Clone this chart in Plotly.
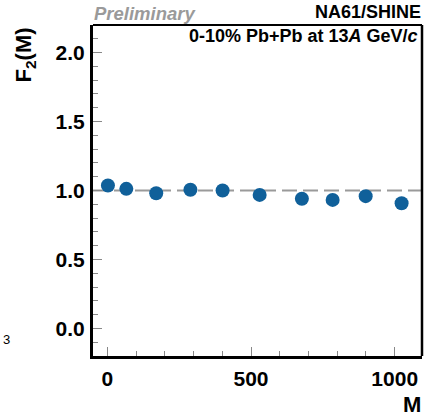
import plotly.graph_objects as go

M_values = [2, 66, 170, 289, 401, 530, 677, 784, 899, 1024]
F2_values = [1.036, 1.012, 0.980, 1.005, 1.000, 0.968, 0.940, 0.932, 0.959, 0.908]
ref_x = [-50, 1095]
ref_y = [1.0, 1.0]

FONT = "Liberation Sans"
fig = go.Figure()
fig.add_trace(go.Scatter(x=ref_x, y=ref_y, mode="lines",
                         line=dict(color="#9a9a9a", width=2, dash="15px,6px"),
                         showlegend=False, hoverinfo="skip"))
fig.add_trace(go.Scatter(x=M_values, y=F2_values, mode="markers",
                         marker=dict(color="#10609a", size=14),
                         showlegend=False))

fig.update_layout(
    width=424, height=418,
    margin=dict(l=93, r=2, t=25, b=62),
    paper_bgcolor="white", plot_bgcolor="white",
    font=dict(family=FONT, color="black"),
    xaxis=dict(range=[-50, 1095], tickvals=[0, 500, 1000], ticktext=["0", "500", "1000"],
               ticks="inside", ticklen=9, tickwidth=1, tickcolor="#888",
               minor=dict(dtick=100, tick0=0, ticks="inside", ticklen=5, tickcolor="#888"),
               showline=True, linewidth=3, linecolor="black", mirror=False,
               showgrid=False, zeroline=False,
               tickfont=dict(size=21, family=FONT, weight="bold"), ticklabelstandoff=2),
    yaxis=dict(range=[-0.2, 2.2], tickvals=[0, 0.5, 1.0, 1.5, 2.0],
               ticktext=["0.0", "0.5", "1.0", "1.5", "2.0"],
               ticks="inside", ticklen=9, tickwidth=1, tickcolor="#888",
               minor=dict(dtick=0.1, tick0=0, ticks="inside", ticklen=5, tickcolor="#888"),
               showline=True, linewidth=3, linecolor="black", mirror=False,
               showgrid=False, zeroline=False,
               tickfont=dict(size=21, family=FONT, weight="bold"), ticklabelstandoff=1),
)

fig.add_shape(type="line", xref="paper", yref="paper", x0=0, x1=1, y0=1, y1=1,
              line=dict(color="black", width=2))
fig.add_shape(type="line", xref="paper", yref="paper", x0=1, x1=1, y0=0, y1=1,
              line=dict(color="black", width=2.5))

fig.add_annotation(text="F<sub>2</sub>(M)", xref="paper", yref="paper", x=-0.207, y=1.0,
                   xanchor="center", yanchor="top", textangle=-90, showarrow=False,
                   font=dict(size=22, family=FONT, weight="bold"))
fig.add_annotation(text="M", xref="paper", yref="paper", x=1.004, y=-0.148,
                   xanchor="right", yanchor="middle", showarrow=False,
                   font=dict(size=22, family=FONT, weight="bold"))
fig.add_annotation(text="<i>Preliminary</i>", xref="paper", yref="paper", x=-0.003, y=1.035,
                   xanchor="left", yanchor="middle", showarrow=False,
                   font=dict(size=18.5, family=FONT, weight="bold", color="#9a9a9a"))
fig.add_annotation(text="NA61/SHINE", xref="paper", yref="paper", x=1.004, y=1.04,
                   xanchor="right", yanchor="middle", showarrow=False,
                   font=dict(size=18, family=FONT, weight="bold"))
fig.add_annotation(text="0-10% Pb+Pb at 13<i>A</i> GeV/<i>c</i>", xref="paper", yref="paper",
                   x=0.995, y=0.967, xanchor="right", yanchor="middle", showarrow=False,
                   font=dict(size=18, family=FONT, weight="bold"))
fig.add_annotation(text="3", xref="paper", yref="paper", x=-0.262, y=0.05,
                   xanchor="center", yanchor="middle", showarrow=False,
                   font=dict(size=13, family=FONT))

fig.write_html("out.html")
